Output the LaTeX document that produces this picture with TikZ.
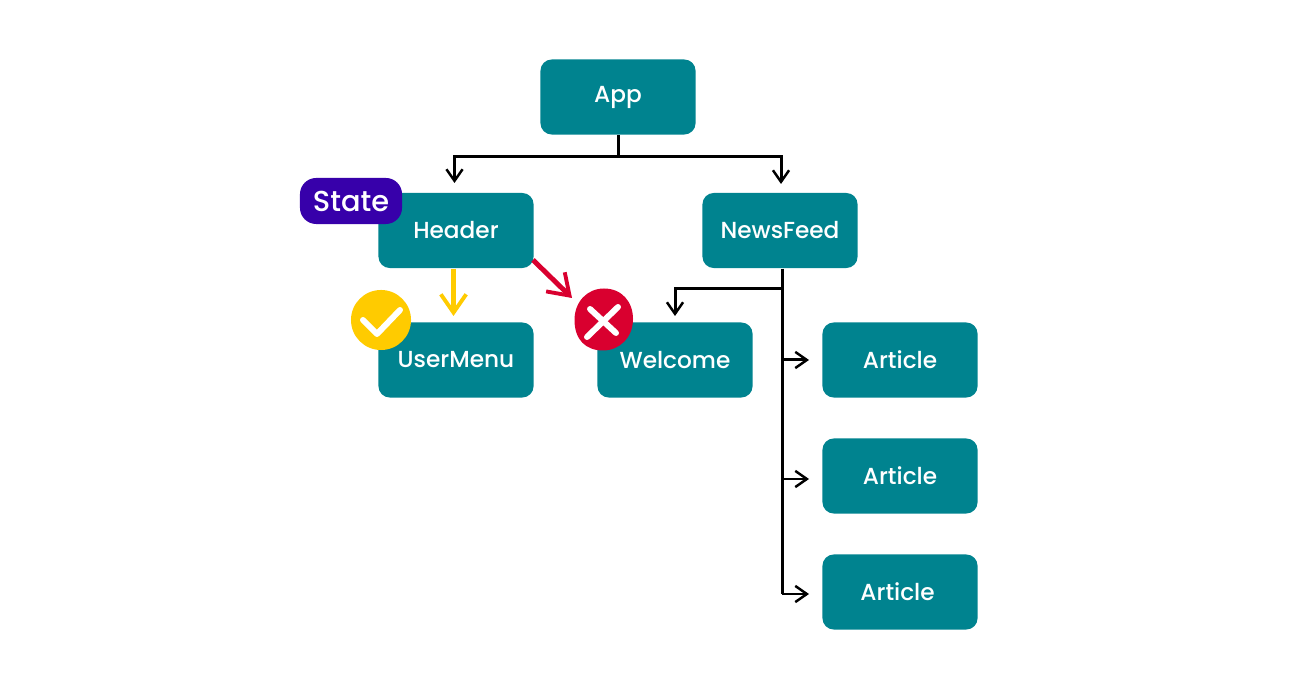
\documentclass[tikz,border=0pt]{standalone}
\usepackage{fontspec}
\setmainfont{Poppins}[UprightFont=* Medium]
\usetikzlibrary{arrows.meta}
\definecolor{boxTeal}{RGB}{0,131,143}
\definecolor{stateViolet}{RGB}{55,0,170}
\definecolor{okYellow}{RGB}{255,203,0}
\definecolor{badRed}{RGB}{217,0,47}
\tikzset{
  comp/.style={fill=boxTeal,text=white,rounded corners=3.2pt,minimum width=1.55cm,minimum height=0.75cm,inner sep=0pt,font=\fontsize{6.6pt}{7pt}\selectfont},
  wire/.style={draw=black,line width=0.85pt,-{Straight Barb[length=3.3pt,width=4.6pt,line width=0.7pt]}},
  trunk/.style={draw=black,line width=0.85pt},
  okline/.style={draw=okYellow,line width=1.3pt,-{Straight Barb[length=5.2pt,width=7.2pt,line width=1.1pt]}},
  badline/.style={draw=badRed,line width=1.4pt,-{Straight Barb[length=5.6pt,width=7.6pt,line width=1.1pt]}},
  badgemark/.style={draw=white,line width=1.7pt,line cap=round,line join=round}
}
\begin{document}
\begin{tikzpicture}[x=0.01cm,y=-0.01cm]
  \useasboundingbox (0,0) rectangle (1301,695);

  \node[comp] (app) at (618,97) {App};
  \node[comp] (header) at (456,230.5) {Header};
  \node[comp] (newsfeed) at (780,230.5) {NewsFeed};
  \node[comp] (usermenu) at (456,360) {UserMenu};
  \node[comp] (welcome) at (675,360) {Welcome};
  \node[comp] (article1) at (900,360) {Article};
  \node[comp] (article2) at (900,476) {Article};
  \node[comp] (article3) at (900,592) {Article\hspace*{1.4pt}};

  \node[fill=stateViolet,text=white,rounded corners=4.6pt,minimum width=1.02cm,minimum height=0.46cm,inner sep=0pt,font=\fontsize{8.2pt}{9pt}\selectfont] (state) at (351,201) {State};

  \coordinate (headerin) at (454.5,183);
  \coordinate (newsin) at (781,184);
  \coordinate (forkapp) at (618,156.5);
  \draw[trunk] (app.south -| forkapp) -- (forkapp);
  \draw[wire] (forkapp) -| (headerin);
  \draw[wire] (forkapp) -| (newsin);

  \coordinate (forknews) at (782,288.5);
  \coordinate (welcomein) at (675,316);
  \coordinate (trunkend) at (782,594);
  \coordinate (art1in) at (809,360);
  \coordinate (art2in) at (809,479);
  \coordinate (art3in) at (809,594);
  \draw[trunk] (newsfeed.south -| forknews) -- (trunkend);
  \draw[wire] (forknews) -| (welcomein);
  \draw[wire] (art1in -| forknews) -- (art1in);
  \draw[wire] (art2in -| forknews) -- (art2in);
  \draw[wire] (trunkend) -- (art3in);

  \coordinate (okend) at (453.5,316);
  \coordinate (badstart) at (533,260);
  \coordinate (badend) at (572,298);
  \draw[okline] (header.south -| okend) -- (okend);
  \draw[badline] (badstart) -- (badend);

  \node[circle,fill=okYellow,minimum size=0.6cm,inner sep=0pt] (okbadge) at (381,320) {};
  \draw[badgemark] (363,320) -- (377,334) -- (400,310);

  \fill[badRed] (604,288.5) .. controls (622,288.5) and (633,302) .. (633,319)
    .. controls (633,338) and (619,350.5) .. (603,350.5)
    .. controls (586,350.5) and (574.5,340) .. (574.5,320)
    .. controls (574.5,302) and (587,288.5) .. (604,288.5);
  \draw[badgemark] (590,309) -- (616,333);
  \draw[badgemark] (618,307) -- (587,337);
\end{tikzpicture}
\end{document}
